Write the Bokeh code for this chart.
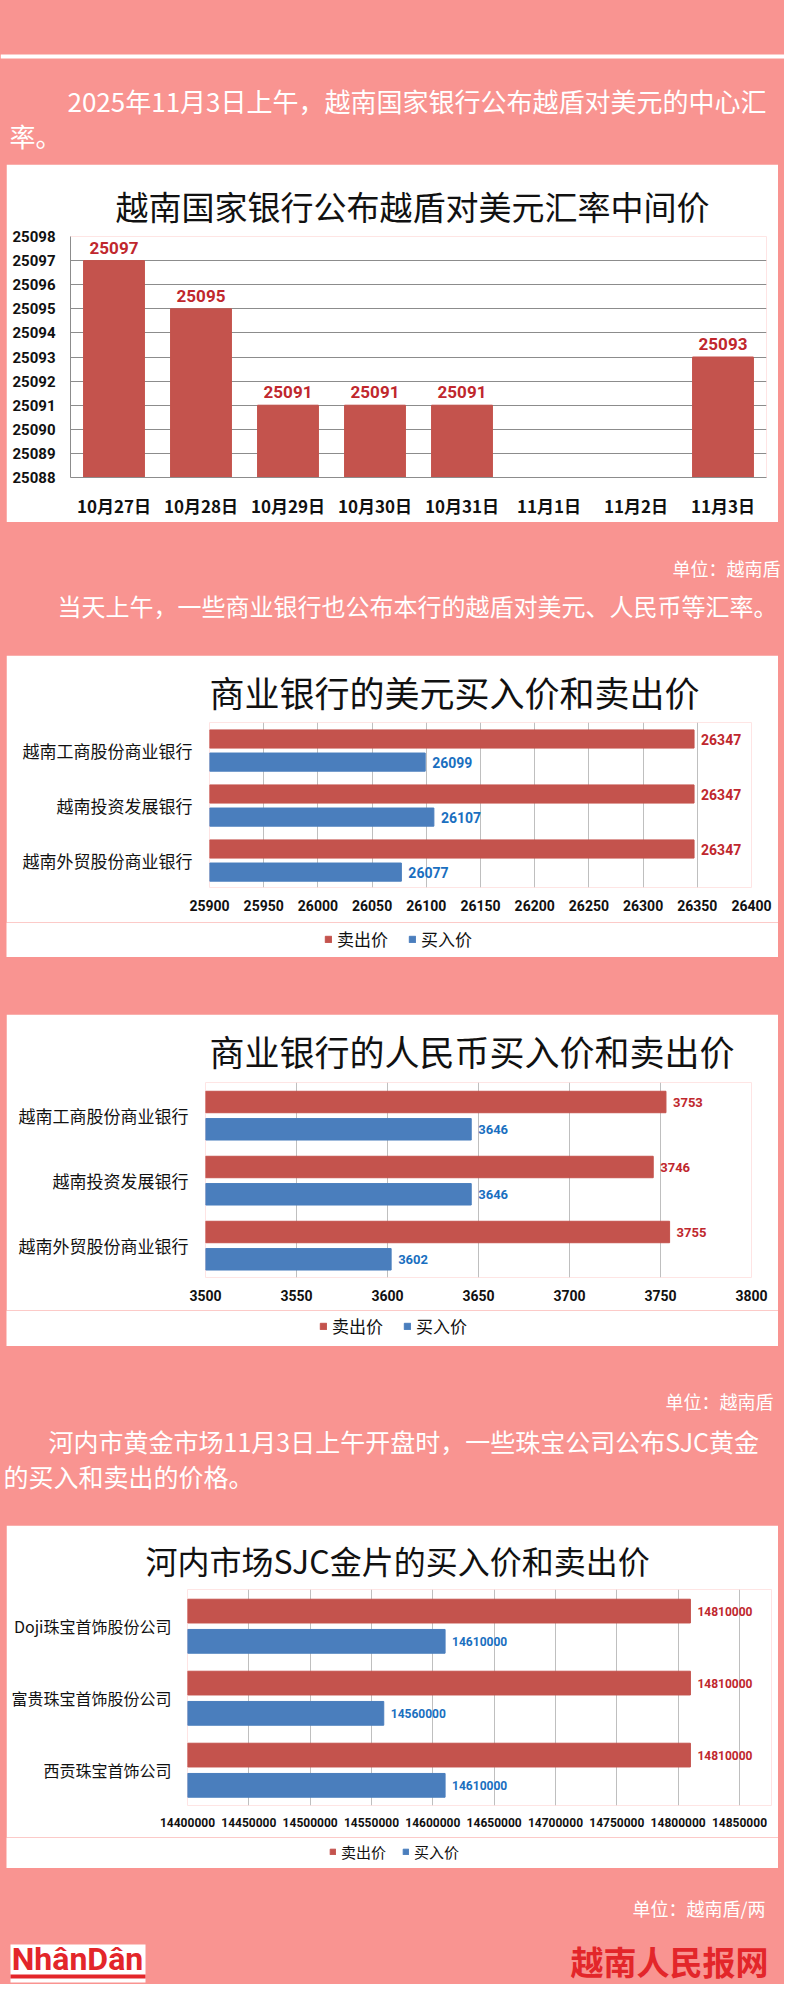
from bokeh.plotting import figure
from bokeh.models import (ColumnDataSource, Range1d, FactorRange, FixedTicker,
                          Legend, LegendItem, BoxAnnotation, BasicTickFormatter)
from bokeh.layouts import column
from bokeh.transform import dodge
from bokeh.core.properties import value
from bokeh.embed import file_html
from bokeh.resources import INLINE

# ---------------- data ----------------
dates = ["10月27日", "10月28日", "10月29日", "10月30日", "10月31日", "11月1日", "11月2日", "11月3日"]
central_rate = [25097, 25095, 25091, 25091, 25091, None, None, 25093]
rate_ticks = [25088, 25089, 25090, 25091, 25092, 25093, 25094, 25095, 25096, 25097, 25098]

banks = ["越南工商股份商业银行", "越南投资发展银行", "越南外贸股份商业银行"]
usd_sell = [26347, 26347, 26347]
usd_buy = [26099, 26107, 26077]
usd_ticks = [25900, 25950, 26000, 26050, 26100, 26150, 26200, 26250, 26300, 26350, 26400]

cny_sell = [3753, 3746, 3755]
cny_buy = [3646, 3646, 3602]
cny_ticks = [3500, 3550, 3600, 3650, 3700, 3750, 3800]

gold_companies = ["Doji珠宝首饰股份公司", "富贵珠宝首饰股份公司", "西贡珠宝首饰公司"]
gold_sell = [14810000, 14810000, 14810000]
gold_buy = [14610000, 14560000, 14610000]
gold_ticks = [14400000, 14450000, 14500000, 14550000, 14600000,
              14650000, 14700000, 14750000, 14800000, 14850000]

series_names = ["卖出价", "买入价"]

# ---------------- style ----------------
PINK = "#F99491"
RED_BAR = "#C4534D"
BLUE_BAR = "#4A7EBD"
RED_LBL = "#C0272D"
BLUE_LBL = "#1A6FC0"
GRID = "#BFBFBF"
CJK = "Noto Sans CJK SC"
NUM = "Roboto"
W = 784
PW = 772


def text_fig(h):
    p = figure(width=W, height=h, x_range=Range1d(0, W), y_range=Range1d(h, 0),
               x_axis_type=None, y_axis_type=None, toolbar_location=None,
               output_backend="svg", min_border=0, frame_align=False)
    p.outline_line_color = None
    p.background_fill_color = PINK
    p.border_fill_color = PINK
    return p


def put(p, x, y, s, size, color="white", align="left", font=CJK, style="normal"):
    p.text(x=[x], y=[y], text=[s], text_font=value(font), text_font_size=size,
           text_color=color, text_align=align, text_baseline="middle",
           text_font_style=style)


def style_title(p, text, size, offset, standoff):
    p.title.text = text
    p.title.text_font = CJK
    p.title.text_font_size = size
    p.title.text_font_style = "normal"
    p.title.text_color = "#111111"
    p.title.align = "left"
    p.title.offset = offset
    p.title.standoff = standoff


# ---------------- header ----------------
pa = text_fig(164)
pa.add_layout(BoxAnnotation(top=54, bottom=58, fill_color="white", fill_alpha=1,
                            line_color=None, level="underlay"))
put(pa, 67, 100, "2025年11月3日上午，越南国家银行公布越盾对美元的中心汇", "26px")
put(pa, 9, 135, "率。", "26px")

# ---------------- chart 1 ----------------
have = [i for i, v in enumerate(central_rate) if v is not None]
src1 = ColumnDataSource(dict(
    date=[dates[i] for i in have],
    rate=[central_rate[i] for i in have],
    lbl=[str(central_rate[i]) for i in have],
))
p1 = figure(width=PW, height=358, x_range=FactorRange(*dates),
            y_range=Range1d(rate_ticks[0], rate_ticks[-1]),
            toolbar_location=None, output_backend="svg", frame_align=False,
            min_border_left=64, min_border_right=12, min_border_top=72,
            min_border_bottom=45, margin=(0, 6, 0, 6))
p1.background_fill_color = "white"
p1.border_fill_color = "white"
p1.outline_line_color = None
style_title(p1, "越南国家银行公布越盾对美元汇率中间价", "33px", 45, 14)
p1.vbar(x="date", top="rate", bottom=rate_ticks[0], width=0.7, color=RED_BAR, source=src1)
p1.text(x="date", y="rate", text="lbl", source=src1, y_offset=-7,
        text_align="center", text_baseline="bottom", text_color=RED_LBL,
        text_font=value(NUM), text_font_size="17px", text_font_style="bold")
p1.yaxis.ticker = FixedTicker(ticks=rate_ticks)
p1.yaxis.formatter = BasicTickFormatter(use_scientific=False)
p1.ygrid.ticker = FixedTicker(ticks=rate_ticks)
p1.ygrid.grid_line_color = "#8C8C8C"
p1.xgrid.grid_line_color = None
for ax in (p1.xaxis, p1.yaxis):
    ax.axis_line_color = "#8C8C8C"
    ax.major_tick_line_color = None
    ax.minor_tick_line_color = None
    ax.major_tick_out = 0
    ax.major_tick_in = 0
    ax.major_label_text_color = "#111111"
    ax.major_label_text_font_style = "bold"
p1.yaxis.major_label_text_font = NUM
p1.yaxis.major_label_text_font_size = "15px"
p1.yaxis.major_label_standoff = 15
p1.xaxis.major_label_text_font = CJK
p1.xaxis.major_label_text_font_size = "17px"
p1.xaxis.major_label_standoff = 15

# ---------------- text block 2 ----------------
pc = text_fig(133)
put(pc, 780, 45, "单位：越南盾", "18px", align="right")
put(pc, 57, 83, "当天上午，一些商业银行也公布本行的越盾对美元、人民币等汇率。", "24px")


def hbar_chart(title, title_size, title_offset, title_standoff, cats, sell, buy, ticks,
               pad, height, top, bottom, left, right, margin, cat_size, cat_standoff,
               tick_size, lbl_size):
    src = ColumnDataSource(dict(cat=cats, sell=sell, buy=buy,
                                sl=[str(v) for v in sell], bl=[str(v) for v in buy]))
    span = ticks[-1] - ticks[0]
    p = figure(width=PW, height=height, y_range=FactorRange(*cats[::-1]),
               x_range=Range1d(ticks[0], ticks[-1] + pad * span),
               toolbar_location=None, output_backend="svg", frame_align=False,
               min_border_left=left, min_border_right=right, min_border_top=top,
               min_border_bottom=bottom, margin=margin)
    p.background_fill_color = "white"
    p.border_fill_color = "white"
    p.outline_line_color = None
    style_title(p, title, title_size, title_offset, title_standoff)
    p.hbar(y=dodge("cat", 0.2, range=p.y_range), left=ticks[0], right="sell",
           height=0.33, color=RED_BAR, source=src)
    p.hbar(y=dodge("cat", -0.22, range=p.y_range), left=ticks[0], right="buy",
           height=0.33, color=BLUE_BAR, source=src)
    p.text(x="sell", y=dodge("cat", 0.2, range=p.y_range), text="sl", source=src,
           x_offset=7, text_baseline="middle", text_color=RED_LBL,
           text_font=value(NUM), text_font_size=lbl_size, text_font_style="bold")
    p.text(x="buy", y=dodge("cat", -0.22, range=p.y_range), text="bl", source=src,
           x_offset=7, text_baseline="middle", text_color=BLUE_LBL,
           text_font=value(NUM), text_font_size=lbl_size, text_font_style="bold")
    p.xaxis.ticker = FixedTicker(ticks=ticks)
    p.xaxis.formatter = BasicTickFormatter(use_scientific=False)
    p.xgrid.ticker = FixedTicker(ticks=ticks)
    p.xgrid.grid_line_color = GRID
    p.ygrid.grid_line_color = None
    for ax in (p.xaxis, p.yaxis):
        ax.axis_line_color = None
        ax.major_tick_line_color = None
        ax.minor_tick_line_color = None
        ax.major_tick_out = 0
        ax.major_tick_in = 0
        ax.major_label_text_color = "#111111"
    p.xaxis.major_label_text_font = NUM
    p.xaxis.major_label_text_font_style = "bold"
    p.xaxis.major_label_text_font_size = tick_size
    p.xaxis.major_label_standoff = 12
    p.yaxis.major_label_text_font = CJK
    p.yaxis.major_label_text_font_size = cat_size
    p.yaxis.major_label_standoff = cat_standoff
    return p


def legend_fig(height, x, y, glyph, size, spacing):
    # a strip under a chart that only carries its legend (swatches drawn out of view)
    p = figure(width=PW, height=height, x_range=Range1d(0, 1), y_range=Range1d(0, 1),
               x_axis_type=None, y_axis_type=None, toolbar_location=None,
               output_backend="svg", min_border=0, frame_align=False, margin=(0, 6, 0, 6))
    p.outline_line_color = None
    p.background_fill_color = "white"
    p.border_fill_color = "white"
    r_sell = p.hbar(y=[-5], left=[-5], right=[-4], height=0.3, color=RED_BAR)
    r_buy = p.hbar(y=[-5], left=[-5], right=[-4], height=0.3, color=BLUE_BAR)
    leg = Legend(items=[LegendItem(label=series_names[0], renderers=[r_sell]),
                        LegendItem(label=series_names[1], renderers=[r_buy])],
                 orientation="horizontal", location=(x, y),
                 border_line_color=None, background_fill_alpha=0,
                 glyph_width=glyph, glyph_height=glyph, label_standoff=5, spacing=spacing,
                 padding=0, margin=0, label_height=20,
                 label_text_font=CJK, label_text_font_size=size,
                 label_text_color="#111111")
    p.add_layout(leg)
    return p


# ---------------- chart 2 ----------------
p2 = hbar_chart("商业银行的美元买入价和卖出价", "35px", 0, 12, banks, usd_sell, usd_buy, usd_ticks,
                0.0, 267, 67, 35, 203, 27, (0, 6, 0, 6), "17px", 17, "14px", "14px")
l2 = legend_fig(35, 318, 6, 8, "17px", 20)

# ---------------- chart 3 ----------------
p3 = hbar_chart("商业银行的人民币买入价和卖出价", "35px", 4, 14, banks, cny_sell, cny_buy, cny_ticks,
                0.0, 296, 68, 33, 199, 27, (57, 6, 0, 6), "17px", 17, "14px", "13px")
l3 = legend_fig(36, 313, 8, 8, "17px", 20)

# ---------------- text block 3 ----------------
pg = text_fig(179)
put(pg, 773, 54, "单位：越南盾", "18px", align="right")
put(pg, 48, 94, "河内市黄金市场11月3日上午开盘时，一些珠宝公司公布SJC黄金", "25px")
put(pg, 3, 129, "的买入和卖出的价格。", "25px")

# ---------------- chart 4 ----------------
p4 = hbar_chart("河内市场SJC金片的买入价和卖出价", "32px", -42, 14, gold_companies, gold_sell,
                gold_buy, gold_ticks, 0.058, 312, 64, 32, 181, 7, (0, 6, 0, 6), "16px", 16,
                "12px", "12px")
l4 = legend_fig(31, 323, 6, 7, "15px", 16)

# ---------------- footer ----------------
pi = text_fig(116)
put(pi, 765, 39, "单位：越南盾/两", "18px", align="right")
pi.add_layout(BoxAnnotation(left=10, right=145, top=76, bottom=114, fill_color="white",
                            fill_alpha=1, line_color=None, level="underlay"))
pi.add_layout(BoxAnnotation(left=10, right=145, top=106, bottom=110, fill_color="#E3262A",
                            fill_alpha=1, line_color=None, level="underlay"))
put(pi, 77, 90, "NhânDân", "32px", color="#E3262A", align="center", font=NUM, style="bold")
put(pi, 768, 92, "越南人民报网", "33px", color="#E3262A", align="right", style="bold")

layout = column(pa, p1, pc, p2, l2, p3, l3, pg, p4, l4, pi, spacing=0,
                styles={"background-color": PINK})

open("out.html", "w").write(file_html(layout, INLINE))
